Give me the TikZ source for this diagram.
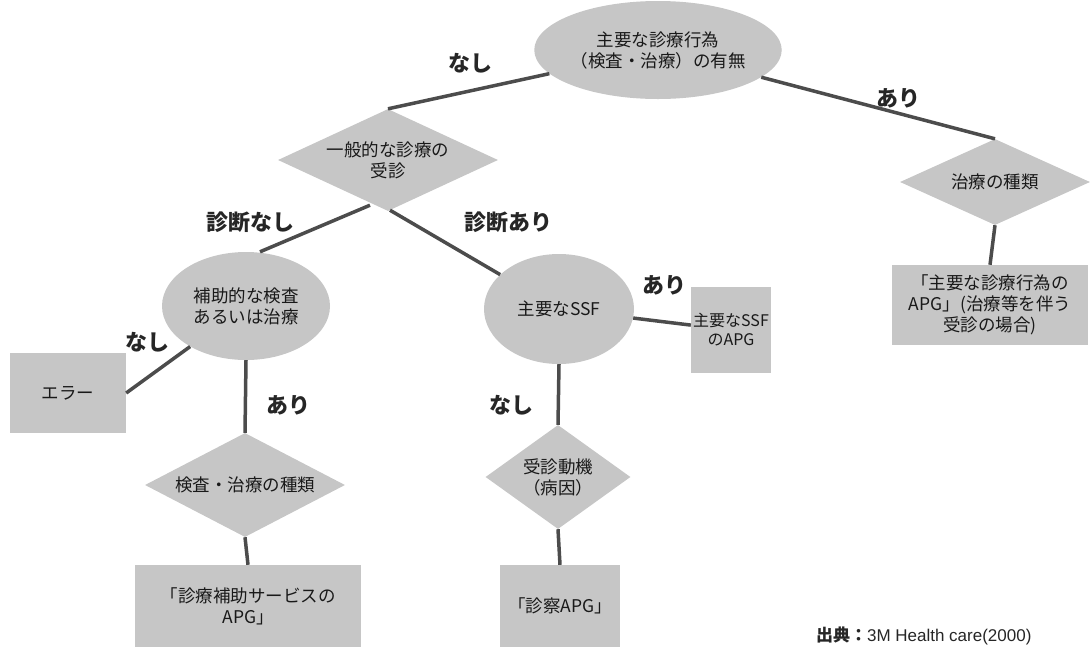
\documentclass[tikz,border=0pt]{standalone}
\usepackage{fontspec}
\setmainfont{Noto Sans CJK JP}
\usetikzlibrary{shapes.geometric,calc}
\tikzset{
  shapefill/.style={fill=gray!45, draw=none, text=black!90, font=\fontsize{17.5}{21}\selectfont, align=center, inner sep=0pt},
  ell/.style={shapefill, ellipse},
  dia/.style={shapefill, diamond, aspect=2},
  box/.style={shapefill, rectangle},
  conn/.style={draw=black!70, line width=3.5pt},
  lab/.style={font=\fontsize{22}{24}\selectfont\bfseries, text=black!85},
}
\begin{document}
\begin{tikzpicture}[x=1pt,y=-1pt]
\useasboundingbox (0,0) rectangle (1090,646);
% nodes
\node[ell, minimum width=232pt, minimum height=98pt] (top) at (658,50) {主要な診療行為\\（検査・治療）の有無};
\node[dia, minimum width=220pt, minimum height=102pt] (d1) at (388,160) {一般的な診療の\\受診};
\node[dia, minimum width=190pt, minimum height=86pt] (dr) at (995,182) {治療の種類};
\node[box, minimum width=196pt, minimum height=80pt] (br) at (990,305) {「主要な診療行為の\\APG」(治療等を伴う\\受診の場合)};
\node[ell, minimum width=168pt, minimum height=108pt] (aux) at (246,306) {補助的な検査\\あるいは治療};
\node[ell, minimum width=150pt, minimum height=110pt] (ssf) at (559,309) {主要なSSF};
\node[box, minimum width=80pt, minimum height=86pt, font=\fontsize{16}{19}\selectfont] (ssfapg) at (731,330) {主要なSSF\\のAPG};
\node[box, minimum width=116pt, minimum height=80pt] (err) at (68,393) {エラー};
\node[dia, minimum width=200pt, minimum height=104pt] (d2) at (245,485) {検査・治療の種類};
\node[box, minimum width=226pt, minimum height=82pt] (b2) at (248,606) {「診療補助サービスの\\APG」};
\node[dia, minimum width=142pt, minimum height=104pt] (d3) at (558,477) {受診動機\\（病因）};
\node[box, minimum width=120pt, minimum height=82pt] (b3) at (560,606) {「診察APG」};
% connectors
\draw[conn] (top) -- (d1.north);
\draw[conn] (top) -- (dr.north);
\draw[conn] ($(d1.south)+(-18,-6)$) -- ($(aux.north)+(14,0)$);
\draw[conn] ($(d1.south)+(2,-1)$) -- (ssf);
\draw[conn] (ssf) -- (ssfapg);
\draw[conn] (err.east) -- (aux);
\draw[conn] (aux.south) -- (d2.north);
\draw[conn] (d2.south) -- (b2.north);
\draw[conn] (ssf.south) -- (d3.north);
\draw[conn] (d3.south) -- (b3.north);
\draw[conn] (dr.south) -- (br.north);
% labels
\node[lab] (l1) at (470,63) {なし};
\node[lab] (l2) at (898,98) {あり};
\node[lab] (l3) at (250,222) {診断なし};
\node[lab] (l4) at (508,222) {診断あり};
\node[lab] (l5) at (664,285) {あり};
\node[lab] (l6) at (147,342) {なし};
\node[lab] (l7) at (288,405) {あり};
\node[lab] (l8) at (511,405) {なし};
\node[font=\fontsize{17}{19}\selectfont, text=black!85, anchor=east] (src) at (1035,636) {\textbf{出典：}\fontspec{Liberation Sans}3M Health care(2000)};
\end{tikzpicture}
\end{document}
